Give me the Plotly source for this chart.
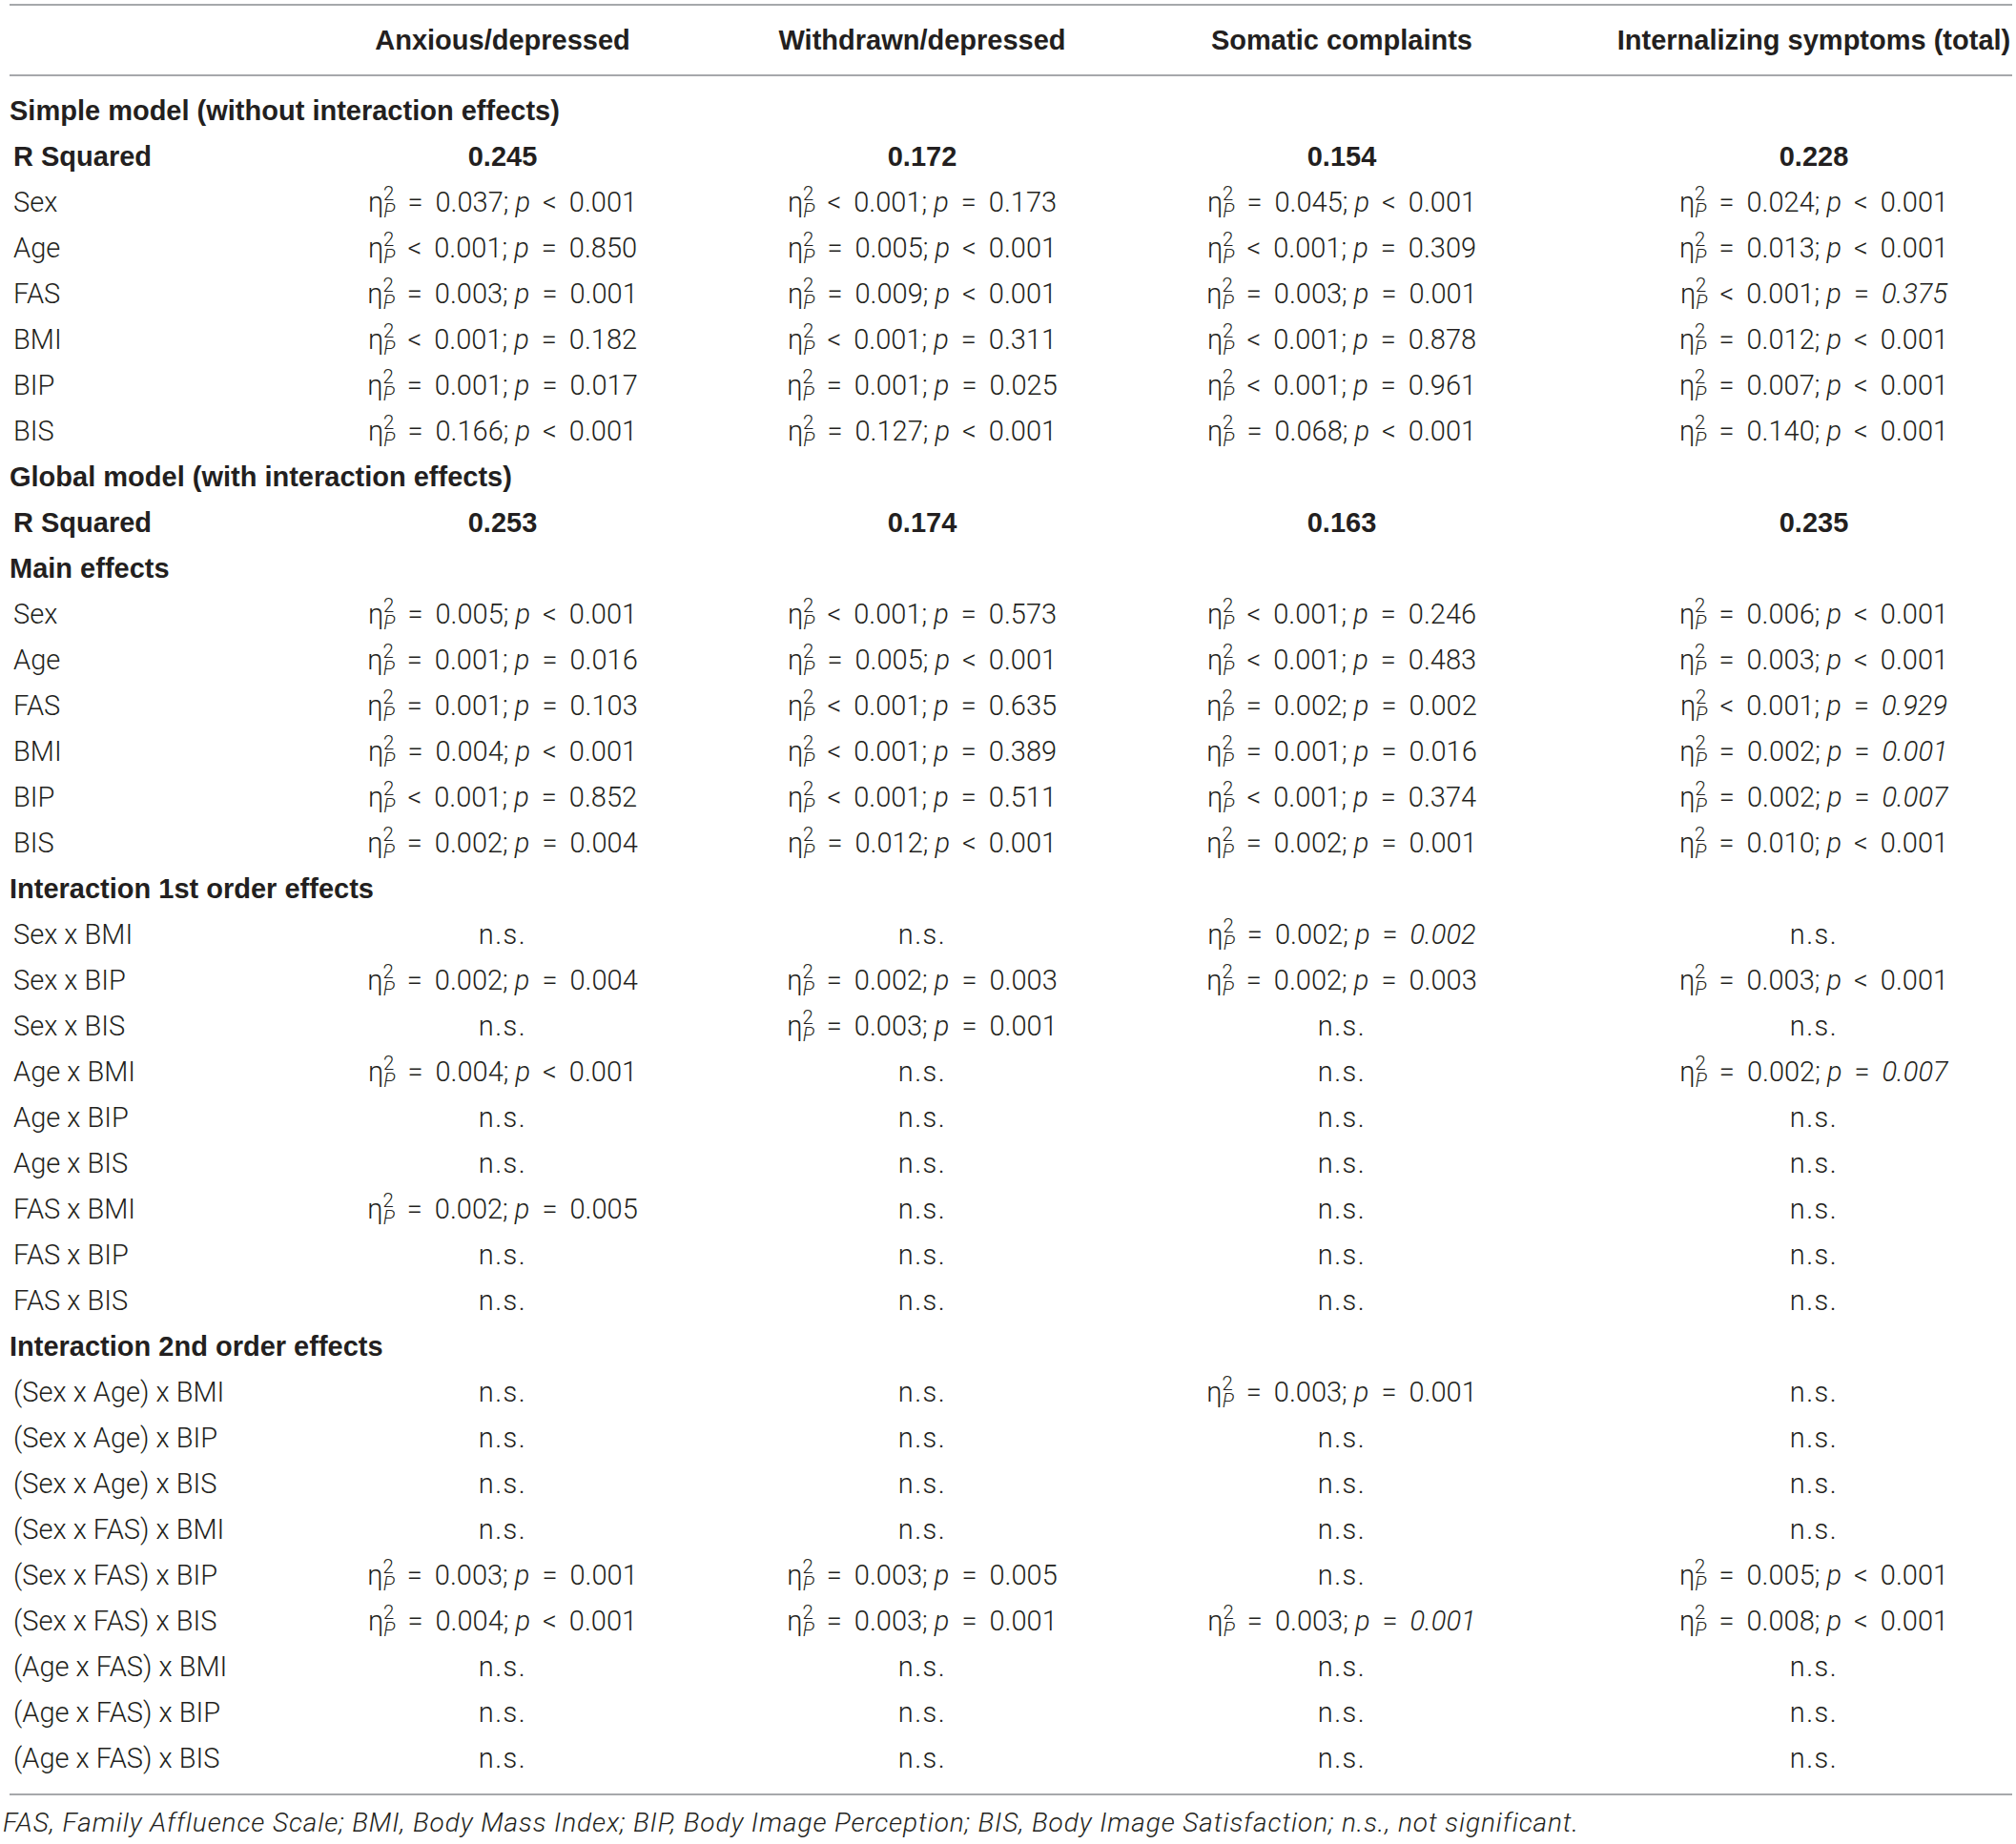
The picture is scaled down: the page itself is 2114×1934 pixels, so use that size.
import plotly.graph_objects as go

# ---------------- data ----------------
columns = ["Anxious/depressed", "Withdrawn/depressed", "Somatic complaints",
           "Internalizing symptoms (total)"]

row_labels = [
    "Simple model (without interaction effects)", "R Squared",
    "Sex", "Age", "FAS", "BMI", "BIP", "BIS",
    "Global model (with interaction effects)", "R Squared", "Main effects",
    "Sex", "Age", "FAS", "BMI", "BIP", "BIS",
    "Interaction 1st order effects",
    "Sex x BMI", "Sex x BIP", "Sex x BIS", "Age x BMI", "Age x BIP", "Age x BIS",
    "FAS x BMI", "FAS x BIP", "FAS x BIS",
    "Interaction 2nd order effects",
    "(Sex x Age) x BMI", "(Sex x Age) x BIP", "(Sex x Age) x BIS",
    "(Sex x FAS) x BMI", "(Sex x FAS) x BIP", "(Sex x FAS) x BIS",
    "(Age x FAS) x BMI", "(Age x FAS) x BIP", "(Age x FAS) x BIS",
]
# S = section title (bold, flush left), B = bold row, N = normal row
row_kind = ["S", "B", "N", "N", "N", "N", "N", "N",
            "S", "B", "S", "N", "N", "N", "N", "N", "N",
            "S"] + ["N"] * 9 + ["S"] + ["N"] * 9

NS = "n.s."
anxious = ["", "0.245",
           "=0.037;<0.001", "<0.001;=0.850", "=0.003;=0.001", "<0.001;=0.182",
           "=0.001;=0.017", "=0.166;<0.001",
           "", "0.253", "",
           "=0.005;<0.001", "=0.001;=0.016", "=0.001;=0.103", "=0.004;<0.001",
           "<0.001;=0.852", "=0.002;=0.004",
           "",
           NS, "=0.002;=0.004", NS, "=0.004;<0.001", NS, NS, "=0.002;=0.005", NS, NS,
           "",
           NS, NS, NS, NS, "=0.003;=0.001", "=0.004;<0.001", NS, NS, NS]
withdrawn = ["", "0.172",
             "<0.001;=0.173", "=0.005;<0.001", "=0.009;<0.001", "<0.001;=0.311",
             "=0.001;=0.025", "=0.127;<0.001",
             "", "0.174", "",
             "<0.001;=0.573", "=0.005;<0.001", "<0.001;=0.635", "<0.001;=0.389",
             "<0.001;=0.511", "=0.012;<0.001",
             "",
             NS, "=0.002;=0.003", "=0.003;=0.001", NS, NS, NS, NS, NS, NS,
             "",
             NS, NS, NS, NS, "=0.003;=0.005", "=0.003;=0.001", NS, NS, NS]
somatic = ["", "0.154",
           "=0.045;<0.001", "<0.001;=0.309", "=0.003;=0.001", "<0.001;=0.878",
           "<0.001;=0.961", "=0.068;<0.001",
           "", "0.163", "",
           "<0.001;=0.246", "<0.001;=0.483", "=0.002;=0.002", "=0.001;=0.016",
           "<0.001;=0.374", "=0.002;=0.001",
           "",
           "=0.002;=0.002*", "=0.002;=0.003", NS, NS, NS, NS, NS, NS, NS,
           "",
           "=0.003;=0.001", NS, NS, NS, NS, "=0.003;=0.001*", NS, NS, NS]
internalizing = ["", "0.228",
                 "=0.024;<0.001", "=0.013;<0.001", "<0.001;=0.375*", "=0.012;<0.001",
                 "=0.007;<0.001", "=0.140;<0.001",
                 "", "0.235", "",
                 "=0.006;<0.001", "=0.003;<0.001", "<0.001;=0.929*", "=0.002;=0.001*",
                 "=0.002;=0.007*", "=0.010;<0.001",
                 "",
                 NS, "=0.003;<0.001", NS, "=0.002;=0.007*", NS, NS, NS, NS, NS,
                 "",
                 NS, NS, NS, NS, "=0.005;<0.001", "=0.008;<0.001", NS, NS, NS]
column_values = [anxious, withdrawn, somatic, internalizing]

footnote = ("FAS, Family Affluence Scale; BMI, Body Mass Index; BIP, Body Image Perception; "
            "BIS, Body Image Satisfaction; n.s., not significant.")

# ---------------- layout constants (pixels) ----------------
W, H = 2114, 1934
ROW0_PX, ROW_PX = 119, 48.0          # first body row centre, row pitch
HEADER_PX = 45
LINE_PX = [5, 79, 1882]
FOOT_PX = 1914
COL_X = [527, 967, 1407, 1902]       # column centres
LABEL_X, SECTION_X = 14, 10
TXT = "#231f20"
LINE_C = "#a6a8ab"
LIGHT = "Roboto"
BOLD = "Liberation Sans"
FS = 29

SP = " \u2009"
OPS = {"=": "=", "<": "&lt;"}
ETA = 'η<sup><span style="letter-spacing:-11px">2</span></sup><sub><i>P</i></sub>'


def fmt(cell, kind):
    if cell == "":
        return cell
    if cell == NS:
        return '<span style="letter-spacing:1.5px">n.s.</span>'
    e, p = cell.split(";")
    ital = p.endswith("*")
    p = p.rstrip("*")
    pval = p[1:]
    if ital:
        pval = "<i>" + pval + "</i>"
    return (ETA + SP + OPS[e[0]] + SP + e[1:] + "; <i>p</i>" + SP + OPS[p[0]] + SP + pval)


row_y = [ROW0_PX + i * ROW_PX for i in range(len(row_labels))]

fig = go.Figure()


def text_trace(xs, ys, txt, pos, family, size=FS, bold=False):
    fig.add_trace(go.Scatter(
        x=xs, y=ys, text=txt, mode="text", textposition=pos, cliponaxis=False,
        hoverinfo="skip", showlegend=False,
        textfont=dict(family=family, size=size, color=TXT,
                      weight=700 if bold else 300)))


# row labels
ys = [i for i, k in enumerate(row_kind) if k == "N"]
text_trace([LABEL_X] * len(ys), [row_y[i] for i in ys], [row_labels[i] for i in ys],
           "middle right", LIGHT)
ys = [i for i, k in enumerate(row_kind) if k == "B"]
text_trace([LABEL_X] * len(ys), [row_y[i] for i in ys], [row_labels[i] for i in ys],
           "middle right", BOLD, bold=True)
ys = [i for i, k in enumerate(row_kind) if k == "S"]
text_trace([SECTION_X] * len(ys), [row_y[i] for i in ys], [row_labels[i] for i in ys],
           "middle right", BOLD, bold=True)

# column headers
text_trace(COL_X, [HEADER_PX] * len(columns), columns, "middle center", BOLD, bold=True)

# cell values
for cx, vals in zip(COL_X, column_values):
    reg = [i for i, v in enumerate(vals) if v != "" and row_kind[i] != "B"]
    text_trace([cx] * len(reg), [row_y[i] for i in reg],
               [fmt(vals[i], row_kind[i]) for i in reg], "middle center", LIGHT)
    bld = [i for i, v in enumerate(vals) if v != "" and row_kind[i] == "B"]
    text_trace([cx] * len(bld), [row_y[i] for i in bld],
               [vals[i] for i in bld], "middle center", BOLD, bold=True)

# footnote
text_trace([SECTION_X - 7], [FOOT_PX],
           ['<i><span style="letter-spacing:0.9px">%s</span></i>' % footnote],
           "middle right", LIGHT, size=28)

for yp in LINE_PX:
    fig.add_shape(type="line", xref="x", yref="y", x0=10, x1=W - 4, y0=yp, y1=yp,
                  line=dict(color=LINE_C, width=2))

fig.update_layout(
    width=W, height=H, margin=dict(l=0, r=0, t=0, b=0),
    paper_bgcolor="white", plot_bgcolor="white",
    xaxis=dict(range=[0, W], visible=False, fixedrange=True),
    yaxis=dict(range=[H, 0], visible=False, fixedrange=True),
)

fig.write_html("out.html", config={"displayModeBar": False, "staticPlot": True},
               post_script="document.body.style.margin='0';")
